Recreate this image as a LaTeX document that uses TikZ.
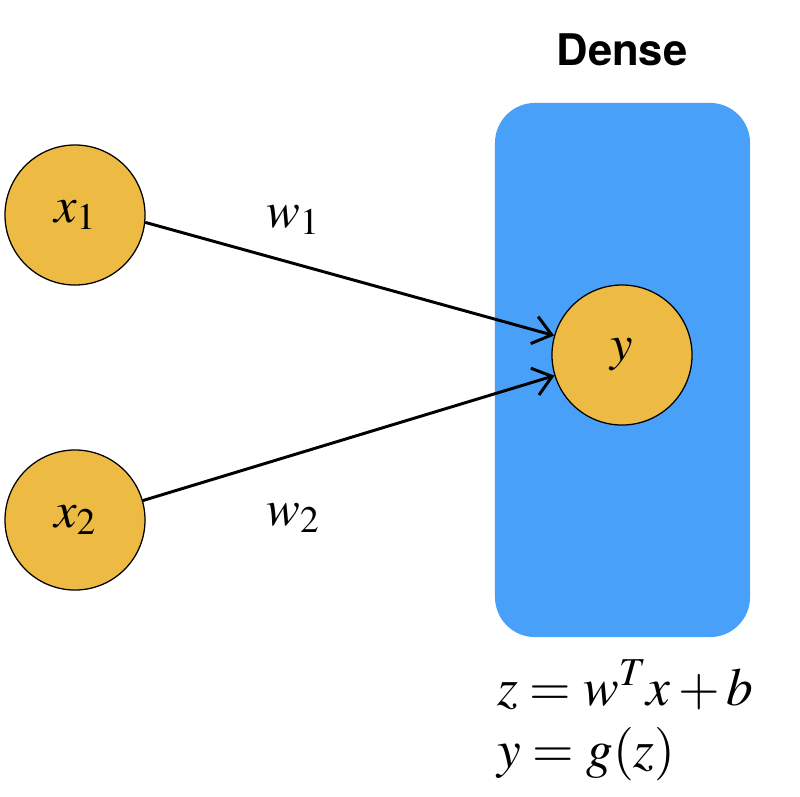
\documentclass[tikz,border=0pt]{standalone}
\usepackage{mathptmx}
\usepackage{fontspec}
\newfontfamily\headfont{TeX Gyre Heros}
\usepackage{tikz}
\usetikzlibrary{arrows.meta}

\definecolor{unitorange}{RGB}{237,187,67}
\definecolor{layerblue}{RGB}{72,160,248}

\begin{document}
\begin{tikzpicture}[
  x=0.025cm, y=-0.025cm,
  neuron/.style={draw,circle,fill=unitorange,line width=0.9pt,minimum size=3.5cm,inner sep=0pt,font=\fontsize{36}{40}\selectfont},
  layer/.style={fill=layerblue,rounded corners=1cm,minimum width=6.375cm,minimum height=13.35cm},
  conn/.style={-{Straight Barb[length=4.5mm,width=7mm,line width=2.1pt]},line width=2.1pt},
  wlabel/.style={font=\fontsize{36}{40}\selectfont}
]
  \useasboundingbox (0,0) rectangle (800,796);

  % layer
  \node[layer] (dense) at (622.5,370) {};
  \node[font=\headfont\bfseries\fontsize{31}{35}\selectfont] (title) at (622,50) {Dense};

  % units
  \node[neuron] (x1) at (75,215) {$x_1$};
  \node[neuron] (x2) at (75,520) {$x_2$};
  \node[neuron] (y) at (622,355) {$y$};

  % weights
  \draw[conn] (x1.-6) -- (y.164);
  \draw[conn] (x2.16) -- (y.197);
  \node[wlabel] (w1) at (293,220) {$w_1$};
  \node[wlabel] (w2) at (293,518) {$w_2$};

  % equations
  \node[anchor=north west,align=left,inner sep=0pt,font=\fontsize{38}{44}\selectfont] (eqs) at (497,660)
    {$z = w^T x + b$\\ $y = g(z)$};

\end{tikzpicture}
\end{document}
